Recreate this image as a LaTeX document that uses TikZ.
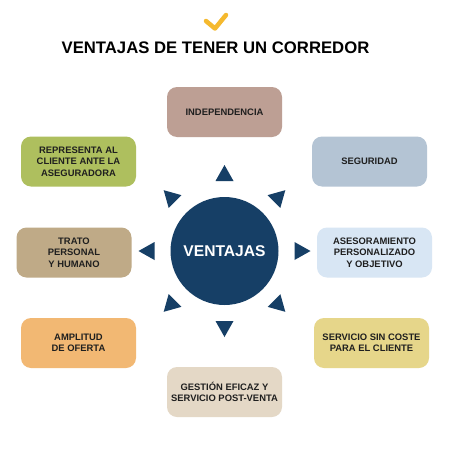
\documentclass[tikz,border=0pt]{standalone}
\usepackage{fontspec}
\setmainfont{Liberation Sans}
\definecolor{navy}{HTML}{163F66}
\definecolor{chk}{HTML}{F5B92E}
\definecolor{cIndep}{HTML}{BD9F94}
\definecolor{cRepr}{HTML}{AEBF5E}
\definecolor{cSeg}{HTML}{B4C4D4}
\definecolor{cTrato}{HTML}{BFAA87}
\definecolor{cAses}{HTML}{D8E6F4}
\definecolor{cAmpl}{HTML}{F2B873}
\definecolor{cServ}{HTML}{E6D68A}
\definecolor{cGest}{HTML}{E4D8C6}
\begin{document}
\begin{tikzpicture}[x=1pt,y=-1pt,
  box/.style={rounded corners=10pt, minimum width=115pt, minimum height=50pt,
    align=center, inner sep=0pt, text=black!88,
    font=\bfseries\fontsize{9.4}{11.4}\selectfont},
  tri/.style={fill=navy}]
\useasboundingbox (0,0) rectangle (450,450);
\fill[white] (0,0) rectangle (450,450);
% check mark
\coordinate (c1) at (206,21);
\coordinate (c2) at (215,28.5);
\coordinate (c3) at (226,15);
\draw[chk, line width=4.5pt, line cap=round, line join=round] (c1) -- (c2) -- (c3);
% title
\node[font=\bfseries\fontsize{16.7}{20}\selectfont, text=black, inner sep=0pt, anchor=base]
  (title) at (215.5,53) {VENTAJAS DE TENER UN CORREDOR};
% center
\node[circle, fill=navy, minimum size=108pt, inner sep=0pt, text=white,
  font=\bfseries\fontsize{15.6}{18}\selectfont] (ctr) at (224.5,251) {VENTAJAS};
% triangles
\foreach \a in {0,45,...,315}{
  \begin{scope}[shift={(ctr.center)}, rotate=\a]
    \fill[tri] (86,0) -- (70,9) -- (70,-9) -- cycle;
  \end{scope}
}
% boxes
\node[box, fill=cIndep] (indep) at (224.5,112) {INDEPENDENCIA};
\node[box, fill=cRepr]  (repr)  at (78.5,161.5) {REPRESENTA AL\\CLIENTE ANTE LA\\ASEGURADORA};
\node[box, fill=cSeg]   (seg)   at (369.5,161.5) {SEGURIDAD};
\node[box, fill=cTrato] (trato) at (74,252.5) {TRATO\\PERSONAL\\Y HUMANO};
\node[box, fill=cAses]  (ases)  at (374.5,252.5) {ASESORAMIENTO\\PERSONALIZADO\\Y OBJETIVO};
\node[box, fill=cAmpl]  (ampl)  at (78.5,343) {AMPLITUD\\DE OFERTA};
\node[box, fill=cServ]  (serv)  at (371.5,343) {SERVICIO SIN COSTE\\PARA EL CLIENTE};
\node[box, fill=cGest]  (gest)  at (224.5,392) {GESTIÓN EFICAZ Y\\SERVICIO POST-VENTA};
\end{tikzpicture}
\end{document}
